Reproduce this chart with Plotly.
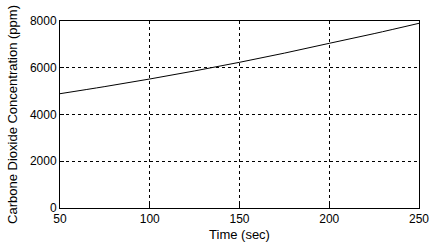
import plotly.graph_objects as go

time_sec = [50, 75, 100, 125, 150, 175, 200, 225, 250]
co2_ppm = [4890, 5195, 5519, 5865, 6233, 6625, 7045, 7460, 7901]

x_ticks = [50, 100, 150, 200, 250]
y_ticks = [0, 2000, 4000, 6000, 8000]

fig = go.Figure()
fig.add_trace(go.Scatter(x=time_sec, y=co2_ppm, mode="lines",
                         line=dict(color="black", width=1), line_shape="spline",
                         showlegend=False))

font = dict(family="Liberation Sans, Arial, sans-serif", size=12, color="black")
title_font = dict(family="Liberation Sans, Arial, sans-serif", size=13, color="black")
axis_common = dict(showline=True, linecolor="black", linewidth=1, mirror=True,
                   showgrid=True, gridcolor="black", griddash="3px,3px", gridwidth=1,
                   zeroline=False, ticks="inside", ticklen=4, tickcolor="black",
                   tickfont=font, automargin=False)

fig.update_layout(
    width=434, height=247,
    margin=dict(l=60, r=15, t=21, b=39),
    paper_bgcolor="white", plot_bgcolor="white",
    font=font,
    xaxis=dict(range=[50, 250], tickvals=x_ticks,
               title=dict(text="Time (sec)", font=title_font, standoff=4), **axis_common),
    yaxis=dict(range=[0, 8000], tickvals=y_ticks,
               title=dict(text="Carbone Dioxide Concentration (ppm)", font=title_font, standoff=9),
               **axis_common),
)
fig.write_html("out.html", config={"displayModeBar": False},
               post_script="document.body.style.margin='0';document.body.style.overflow='hidden';")
